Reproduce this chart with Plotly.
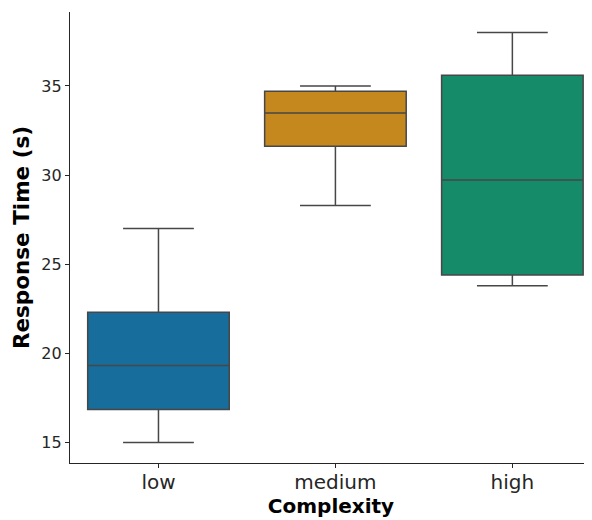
import plotly.graph_objects as go

categories = ["low", "medium", "high"]
lower_fence = [15.0, 28.3, 23.8]
q1 = [16.85, 31.62, 24.4]
median = [19.32, 33.48, 29.72]
q3 = [22.3, 34.7, 35.6]
upper_fence = [27.0, 35.0, 38.0]
colors = ["#176d9c", "#c4881f", "#168b6a"]

fig = go.Figure()
for i, c in enumerate(categories):
    fig.add_trace(go.Box(
        x=[c], q1=[q1[i]], median=[median[i]], q3=[q3[i]],
        lowerfence=[lower_fence[i]], upperfence=[upper_fence[i]],
        fillcolor=colors[i], line=dict(color="#474747", width=1.5),
        width=0.8, whiskerwidth=0.5, boxpoints=False, showlegend=False,
        hoverinfo="skip",
    ))

fig.update_layout(
    width=584, height=512,
    margin=dict(l=62, r=0, t=4, b=57),
    plot_bgcolor="white", paper_bgcolor="white",
    font=dict(family="DejaVu Sans", color="#262626"),
)
fig.update_xaxes(
    type="category", categoryorder="array", categoryarray=categories,
    range=[-0.5, 2.45], showline=True, linecolor="#262626", linewidth=1.2,
    ticks="outside", ticklen=4, tickcolor="#262626", showgrid=False,
    tickfont=dict(size=20, color="#262626"), ticklabelstandoff=-3,
    title=dict(text="<b>Complexity</b>", font=dict(size=20, color="black"), standoff=4),
)
fig.update_yaxes(
    range=[13.85, 39.15], tickvals=[15, 20, 25, 30, 35],
    showline=True, linecolor="#262626", linewidth=1.2,
    ticks="outside", ticklen=4, tickcolor="#262626", showgrid=False, zeroline=False,
    tickfont=dict(size=16, color="#262626"),
    title=dict(text="<b>Response Time (s)</b>", font=dict(size=21.5, color="black"), standoff=5),
)

fig.write_html("out.html")
